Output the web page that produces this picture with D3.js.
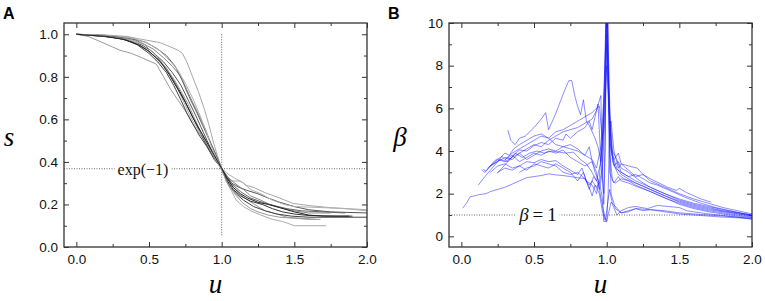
<!DOCTYPE html>
<html>
<head>
<meta charset="utf-8">
<script src="https://cdn.jsdelivr.net/npm/d3@7"></script>
<style>
  body { margin: 0; background: #fff; }
  svg { display: block; }
  .tick text { font-family: "Liberation Sans", Arial, sans-serif; font-size: 13.5px; fill: #111; }
</style>
</head>
<body>
<div id="chart"></div>
<script>
// ---- data: panel A, survival s(u), pairs of [u, s]
const sCurve1 = [[0,1],[0.08,0.99],[0.15,0.97],[0.25,0.94],[0.3,0.925],[0.38,0.91],[0.45,0.89],[0.55,0.86],[0.6,0.8],[0.65,0.74],[0.7,0.69],[0.75,0.64],[0.8,0.58],[0.85,0.53],[0.88,0.5],[0.92,0.46],[0.96,0.41],[1.0,0.37],[1.04,0.32],[1.08,0.28],[1.12,0.25],[1.18,0.22],[1.25,0.19],[1.3,0.17],[1.38,0.155],[1.45,0.14],[1.55,0.135],[1.65,0.13]];
const sCurve2 = [[0,1],[0.2,0.995],[0.35,0.99],[0.42,0.98],[0.5,0.97],[0.58,0.96],[0.65,0.94],[0.7,0.925],[0.73,0.91],[0.76,0.87],[0.8,0.8],[0.84,0.73],[0.88,0.65],[0.91,0.58],[0.94,0.5],[0.97,0.43],[1.0,0.37],[1.03,0.33],[1.07,0.31],[1.13,0.31],[1.17,0.29],[1.22,0.28],[1.3,0.255],[1.4,0.23],[1.49,0.205],[1.6,0.195],[1.75,0.185],[1.88,0.18],[2.0,0.175]];
const sCurve3 = [[0,1],[0.15,0.995],[0.3,0.98],[0.4,0.96],[0.48,0.93],[0.55,0.89],[0.62,0.84],[0.68,0.77],[0.73,0.71],[0.78,0.64],[0.83,0.57],[0.88,0.5],[0.93,0.44],[0.97,0.4],[1.0,0.37],[1.04,0.31],[1.08,0.27],[1.13,0.24],[1.2,0.215],[1.28,0.2],[1.35,0.18],[1.42,0.165],[1.5,0.155],[1.6,0.148],[1.8,0.145],[1.9,0.145]];
const sCurve4 = [[0,1],[0.2,0.99],[0.35,0.975],[0.45,0.95],[0.52,0.92],[0.6,0.87],[0.66,0.82],[0.72,0.76],[0.77,0.69],[0.82,0.62],[0.86,0.56],[0.9,0.5],[0.94,0.44],[0.98,0.39],[1.0,0.37],[1.03,0.33],[1.07,0.3],[1.12,0.28],[1.18,0.265],[1.25,0.25],[1.32,0.23],[1.4,0.21],[1.5,0.19],[1.6,0.175],[1.75,0.165],[2.0,0.16]];
const sCurve5 = [[0,1],[0.25,0.99],[0.38,0.97],[0.46,0.94],[0.53,0.9],[0.6,0.85],[0.65,0.8],[0.7,0.74],[0.74,0.68],[0.78,0.62],[0.82,0.57],[0.87,0.52],[0.91,0.47],[0.95,0.42],[1.0,0.37],[1.03,0.31],[1.07,0.26],[1.1,0.22],[1.15,0.19],[1.2,0.17],[1.27,0.15],[1.35,0.13],[1.42,0.12],[1.5,0.1],[1.72,0.1]];
const sCurve6 = [[0,1],[0.2,0.995],[0.36,0.985],[0.45,0.96],[0.53,0.93],[0.6,0.89],[0.66,0.85],[0.72,0.8],[0.76,0.74],[0.8,0.68],[0.85,0.61],[0.89,0.55],[0.93,0.48],[0.97,0.42],[1.0,0.37],[1.04,0.33],[1.09,0.3],[1.15,0.27],[1.2,0.24],[1.27,0.22],[1.33,0.2],[1.4,0.185],[1.5,0.17],[1.6,0.16],[1.75,0.16]];
const sCurve7 = [[0,1],[0.18,0.99],[0.32,0.98],[0.42,0.95],[0.5,0.91],[0.56,0.87],[0.62,0.82],[0.67,0.76],[0.72,0.69],[0.76,0.63],[0.8,0.58],[0.85,0.52],[0.9,0.47],[0.95,0.41],[1.0,0.37],[1.03,0.32],[1.06,0.28],[1.1,0.25],[1.15,0.22],[1.22,0.19],[1.3,0.17],[1.38,0.155],[1.48,0.145],[1.6,0.14],[1.8,0.14],[2.0,0.14]];
const sCurve8 = [[0,1],[0.22,0.99],[0.38,0.975],[0.47,0.95],[0.55,0.9],[0.62,0.84],[0.68,0.78],[0.73,0.72],[0.77,0.67],[0.81,0.61],[0.85,0.55],[0.9,0.49],[0.94,0.44],[0.97,0.4],[1.0,0.36],[1.04,0.3],[1.09,0.25],[1.14,0.21],[1.2,0.18],[1.25,0.165],[1.32,0.15],[1.4,0.14],[1.5,0.135],[1.6,0.13],[1.68,0.13]];
const sCurve9 = [[0,1],[0.2,0.995],[0.37,0.98],[0.47,0.965],[0.55,0.935],[0.62,0.9],[0.68,0.85],[0.73,0.78],[0.78,0.7],[0.83,0.63],[0.87,0.57],[0.91,0.51],[0.95,0.45],[0.98,0.4],[1.0,0.37],[1.04,0.33],[1.08,0.29],[1.13,0.26],[1.2,0.23],[1.28,0.21],[1.36,0.195],[1.45,0.18],[1.55,0.17],[1.7,0.165],[1.85,0.16]];
const sCurve10 = [[0,1],[0.25,0.995],[0.4,0.98],[0.5,0.955],[0.58,0.92],[0.65,0.87],[0.7,0.83],[0.75,0.77],[0.8,0.7],[0.85,0.62],[0.89,0.55],[0.93,0.47],[0.97,0.41],[1.0,0.37],[1.05,0.34],[1.1,0.32],[1.15,0.3],[1.2,0.27],[1.27,0.25],[1.35,0.22],[1.43,0.2],[1.5,0.19],[1.7,0.185],[1.85,0.18],[2.0,0.17]];
const sCurve11 = [[0,1],[0.2,0.99],[0.33,0.975],[0.43,0.95],[0.5,0.92],[0.58,0.87],[0.64,0.81],[0.7,0.74],[0.75,0.68],[0.8,0.61],[0.85,0.55],[0.9,0.49],[0.95,0.43],[1.0,0.37],[1.04,0.32],[1.08,0.28],[1.13,0.25],[1.18,0.23],[1.25,0.21],[1.32,0.2],[1.4,0.185],[1.5,0.165],[1.6,0.15],[1.7,0.145],[1.88,0.145]];

// ---- data: panel B, beta(u), pairs of [u, beta]
const bCurve1 = [[0.01,1.33],[0.04,1.6],[0.06,1.85],[0.09,1.9],[0.12,1.95],[0.17,2.0],[0.2,2.1],[0.25,2.2],[0.3,2.3],[0.35,2.45],[0.4,2.6],[0.45,2.75],[0.5,2.8],[0.55,2.85],[0.6,2.93],[0.65,2.88],[0.7,2.85],[0.75,2.8],[0.8,2.75],[0.85,2.7],[0.88,2.4],[0.9,2.6],[0.93,2.3],[0.95,2.5],[0.97,1.8],[0.98,0.7],[1.0,0.7],[1.01,1.0],[1.03,1.6],[1.06,1.4],[1.1,1.1],[1.15,1.15],[1.2,1.3],[1.25,1.2],[1.3,1.25],[1.4,1.15],[1.5,1.05],[1.6,1.0],[1.7,0.95],[1.8,0.9],[1.9,0.87],[2.0,0.82]];
const bCurve2 = [[0.117,2.4],[0.15,2.7],[0.2,3.1],[0.25,3.5],[0.28,3.75],[0.3,3.6],[0.35,3.9],[0.4,4.1],[0.45,4.3],[0.5,4.5],[0.55,4.7],[0.6,4.6],[0.65,4.9],[0.7,5.0],[0.75,5.2],[0.8,5.4],[0.85,5.6],[0.9,5.8],[0.93,6.0],[0.95,6.1],[0.97,4.5],[0.99,8],[1.0,12],[1.01,9],[1.03,4],[1.06,3.2],[1.1,3.0],[1.15,2.8],[1.2,2.6],[1.3,2.3],[1.4,2.0],[1.5,1.7],[1.6,1.5],[1.7,1.35],[1.8,1.2],[1.9,1.1],[2.0,1.0]];
const bCurve3 = [[0.14,3.13],[0.16,3.0],[0.2,3.3],[0.25,3.6],[0.3,3.5],[0.35,3.7],[0.4,3.9],[0.45,3.6],[0.5,3.8],[0.55,4.0],[0.6,4.1],[0.65,4.0],[0.7,4.2],[0.75,4.3],[0.8,4.1],[0.85,3.8],[0.9,3.6],[0.93,3.2],[0.96,4.2],[0.98,6.5],[1.0,10.5],[1.02,5.5],[1.04,3.5],[1.08,2.9],[1.12,2.7],[1.2,2.5],[1.3,2.2],[1.4,1.9],[1.5,1.6],[1.6,1.4],[1.7,1.25],[1.8,1.15],[1.9,1.05],[2.0,0.95]];
const bCurve4 = [[0.245,2.95],[0.28,3.2],[0.32,3.5],[0.36,3.8],[0.4,4.05],[0.45,4.0],[0.5,4.25],[0.55,4.4],[0.6,4.3],[0.65,4.6],[0.7,4.5],[0.72,4.8],[0.75,4.6],[0.8,4.9],[0.85,5.1],[0.88,5.4],[0.9,5.0],[0.92,5.6],[0.94,6.2],[0.96,3.5],[0.98,2.0],[0.99,5],[1.0,11],[1.01,7],[1.02,3],[1.05,2.5],[1.08,2.8],[1.1,2.6],[1.15,2.5],[1.2,2.35],[1.3,2.1],[1.4,1.8],[1.5,1.55],[1.6,1.35],[1.7,1.2],[1.8,1.1],[1.9,1.0],[2.0,0.9]];
const bCurve5 = [[0.32,4.98],[0.34,4.5],[0.37,4.3],[0.4,4.6],[0.44,4.7],[0.5,5.1],[0.55,5.5],[0.58,5.8],[0.6,5.0],[0.64,5.6],[0.68,6.3],[0.72,7.0],[0.74,7.3],[0.76,7.3],[0.78,6.6],[0.8,6.1],[0.82,5.7],[0.84,6.4],[0.86,5.4],[0.88,5.2],[0.9,4.9],[0.92,4.6],[0.94,4.2],[0.96,3.5],[0.98,5.5],[1.0,10.5],[1.02,4.5],[1.05,3.3],[1.08,3.5],[1.1,3.2],[1.15,3.0],[1.2,2.75],[1.25,2.5],[1.3,2.3],[1.4,2.0],[1.5,1.75],[1.6,1.55],[1.7,1.4],[1.8,1.25],[1.9,1.12],[2.0,1.0]];
const bCurve6 = [[0.2,3.3],[0.25,3.5],[0.3,3.7],[0.35,3.6],[0.4,3.9],[0.45,4.1],[0.5,4.3],[0.55,4.2],[0.6,4.5],[0.65,4.7],[0.7,4.9],[0.75,5.0],[0.8,5.1],[0.85,5.3],[0.9,5.5],[0.93,5.9],[0.96,6.6],[0.97,3.0],[0.98,1.5],[0.99,4],[1.0,12],[1.01,8],[1.03,2.0],[1.06,1.3],[1.1,1.1],[1.15,1.2],[1.2,1.3],[1.3,1.25],[1.4,1.2],[1.5,1.1],[1.6,1.05],[1.7,1.0],[1.8,0.95],[1.9,0.9],[2.0,0.85]];
const bCurve7 = [[0.2,3.0],[0.25,3.3],[0.3,3.4],[0.35,3.2],[0.4,3.3],[0.45,3.5],[0.5,3.45],[0.55,3.6],[0.6,3.5],[0.65,3.55],[0.7,3.3],[0.75,3.1],[0.8,2.9],[0.83,3.2],[0.86,2.6],[0.9,2.4],[0.93,2.0],[0.95,2.8],[0.97,4.5],[0.99,7],[1.0,9],[1.02,6],[1.04,4.0],[1.07,3.6],[1.1,3.0],[1.15,2.8],[1.2,2.9],[1.25,2.7],[1.3,2.5],[1.35,2.4],[1.45,2.1],[1.55,1.8],[1.65,1.55],[1.75,1.35],[1.85,1.2],[1.95,1.05],[2.0,1.0]];
const bCurve8 = [[0.18,3.2],[0.22,3.4],[0.27,3.6],[0.32,3.5],[0.37,3.9],[0.42,3.7],[0.47,3.9],[0.52,4.0],[0.57,3.9],[0.62,4.0],[0.67,3.95],[0.72,3.9],[0.77,3.95],[0.82,3.6],[0.86,3.4],[0.9,3.0],[0.93,2.6],[0.96,3.5],[0.98,5.0],[1.0,8.0],[1.02,5.5],[1.04,3.8],[1.07,3.2],[1.1,2.9],[1.15,2.7],[1.2,2.5],[1.3,2.2],[1.4,1.9],[1.5,1.65],[1.6,1.45],[1.7,1.3],[1.8,1.18],[1.9,1.07],[2.0,0.95]];
const bCurve9 = [[0.25,3.0],[0.3,3.2],[0.35,3.1],[0.4,3.3],[0.45,3.1],[0.5,3.4],[0.55,3.3],[0.6,3.2],[0.65,3.4],[0.7,3.2],[0.75,3.0],[0.8,2.6],[0.84,3.0],[0.88,2.2],[0.91,2.8],[0.94,2.5],[0.97,1.5],[0.99,0.8],[1.0,0.7],[1.01,2.0],[1.02,5.0],[1.03,5.4],[1.05,4.0],[1.08,3.2],[1.1,3.4],[1.15,3.1],[1.2,2.8],[1.25,2.9],[1.3,2.6],[1.4,2.3],[1.5,2.0],[1.6,1.75],[1.7,1.55],[1.8,1.35],[1.9,1.2],[2.0,1.05]];
const bCurve10 = [[0.3,3.6],[0.35,3.8],[0.4,3.5],[0.45,3.7],[0.5,3.9],[0.55,3.8],[0.6,4.0],[0.65,3.9],[0.7,4.05],[0.75,3.7],[0.8,3.5],[0.85,3.3],[0.9,3.5],[0.93,3.0],[0.95,2.2],[0.97,3.0],[0.99,6],[1.0,9.5],[1.01,7],[1.03,4.2],[1.05,3.6],[1.08,3.9],[1.1,3.4],[1.15,3.3],[1.21,3.2],[1.25,2.9],[1.3,2.7],[1.36,2.5],[1.42,2.3],[1.48,2.15],[1.5,2.25],[1.55,2.05],[1.6,1.9],[1.65,1.75],[1.72,1.6]];
const bCurve11 = [[0.15,3.15],[0.17,3.05],[0.2,3.3],[0.23,3.55],[0.27,3.7],[0.3,3.9],[0.33,3.8],[0.36,4.1],[0.4,4.3],[0.45,4.5],[0.5,4.7],[0.55,4.8],[0.6,4.6],[0.65,4.3],[0.7,4.2],[0.75,4.1],[0.8,4.0],[0.85,3.8],[0.88,4.2],[0.9,3.5],[0.92,3.0],[0.95,2.5],[0.97,3.2],[0.99,9],[1.0,12],[1.01,10],[1.02,4.0],[1.04,2.6],[1.06,2.5],[1.1,2.7],[1.15,2.6],[1.2,2.4],[1.3,2.1],[1.4,1.8],[1.5,1.5],[1.6,1.3],[1.7,1.15],[1.8,1.05],[1.9,0.95],[2.0,0.88]];
const bCurve12 = [[0.4,3.0],[0.45,3.2],[0.5,3.3],[0.55,3.5],[0.6,3.4],[0.65,3.3],[0.7,3.0],[0.75,2.9],[0.8,3.0],[0.85,2.7],[0.88,2.3],[0.9,1.9],[0.92,2.4],[0.95,2.0],[0.97,1.2],[0.99,0.75],[1.0,1.2],[1.02,2.2],[1.04,1.5],[1.07,1.0],[1.1,1.2],[1.15,1.35],[1.2,1.4],[1.28,1.3],[1.35,1.45],[1.42,1.4],[1.5,1.35],[1.55,1.2],[1.6,1.15],[1.7,1.05],[1.8,0.98],[1.9,0.9],[2.0,0.8]];

const curvesA = [sCurve1, sCurve2, sCurve3, sCurve4, sCurve5, sCurve6, sCurve7, sCurve8, sCurve9, sCurve10, sCurve11];
const curvesB = [bCurve1, bCurve2, bCurve3, bCurve4, bCurve5, bCurve6, bCurve7, bCurve8, bCurve9, bCurve10, bCurve11, bCurve12];

// ticks
const uTicks = [0, 0.5, 1.0, 1.5, 2.0];
const uMinor = [0.25, 0.75, 1.25, 1.75];
const sTicks = [0, 0.2, 0.4, 0.6, 0.8, 1.0];
const sMinor = [0.1, 0.3, 0.5, 0.7, 0.9];
const betaTicks = [0, 2, 4, 6, 8, 10];
const betaMinor = [1, 3, 5, 7, 9];

// reference lines
const sRef = Math.exp(-1);
const betaRef = 1;

// grey shades for panel A curves
const greys = ["#9a9a9a", "#a8a8a8", "#333", "#555", "#aaa", "#888", "#444", "#999", "#666", "#b0b0b0", "#222"];

const W = 765, H = 301;
const svg = d3.select("#chart").append("svg")
  .attr("width", W)
  .attr("height", H);

const frameTop = 23, frameBottom = 247;

function drawPanel(opt) {
  const x = d3.scaleLinear().domain([-0.085, 2.0]).range([opt.left, opt.right]);
  const y = d3.scaleLinear().domain(opt.yDomain).range([frameBottom, frameTop]);
  const g = svg.append("g");

  const clipId = "clip" + opt.letter;
  g.append("clipPath").attr("id", clipId)
    .append("rect")
    .attr("x", opt.left).attr("y", frameTop)
    .attr("width", opt.right - opt.left).attr("height", frameBottom - frameTop);

  const noDomain = a => a.call(s => s.select(".domain").remove());
  const tickStyle = a => a.selectAll(".tick line").attr("stroke", "#333").attr("stroke-width", 1);

  // bottom axis with labels, ticks inward
  g.append("g").attr("transform", `translate(0,${frameBottom})`)
    .call(d3.axisBottom(x).tickValues(uTicks).tickSize(-5).tickPadding(7).tickFormat(d3.format(".1f")))
    .call(noDomain).call(tickStyle);
  g.append("g").attr("transform", `translate(0,${frameBottom})`)
    .call(d3.axisBottom(x).tickValues(uMinor).tickSize(-3).tickFormat(""))
    .call(noDomain).call(tickStyle);
  // top mirror
  g.append("g").attr("transform", `translate(0,${frameTop})`)
    .call(d3.axisTop(x).tickValues(uTicks).tickSize(-5).tickFormat(""))
    .call(noDomain).call(tickStyle);
  g.append("g").attr("transform", `translate(0,${frameTop})`)
    .call(d3.axisTop(x).tickValues(uMinor).tickSize(-3).tickFormat(""))
    .call(noDomain).call(tickStyle);
  // left axis
  g.append("g").attr("transform", `translate(${opt.left},0)`)
    .call(d3.axisLeft(y).tickValues(opt.yTicks).tickSize(-5).tickPadding(6).tickFormat(opt.yFormat))
    .call(noDomain).call(tickStyle);
  g.append("g").attr("transform", `translate(${opt.left},0)`)
    .call(d3.axisLeft(y).tickValues(opt.yMinor).tickSize(-3).tickFormat(""))
    .call(noDomain).call(tickStyle);
  // right mirror
  g.append("g").attr("transform", `translate(${opt.right},0)`)
    .call(d3.axisRight(y).tickValues(opt.yTicks).tickSize(-5).tickFormat(""))
    .call(noDomain).call(tickStyle);
  g.append("g").attr("transform", `translate(${opt.right},0)`)
    .call(d3.axisRight(y).tickValues(opt.yMinor).tickSize(-3).tickFormat(""))
    .call(noDomain).call(tickStyle);

  // reference dotted lines
  const dots = "1,1.5";
  g.append("line")
    .attr("x1", opt.left).attr("x2", opt.right)
    .attr("y1", y(opt.hRef)).attr("y2", y(opt.hRef))
    .attr("stroke", "#666").attr("stroke-width", 1).attr("stroke-dasharray", dots);
  if (opt.vRef) {
    g.append("line")
      .attr("x1", x(1)).attr("x2", x(1))
      .attr("y1", y(opt.vRef[0])).attr("y2", y(opt.vRef[1]))
      .attr("stroke", "#666").attr("stroke-width", 1).attr("stroke-dasharray", dots);
  }

  // curves
  const line = d3.line().x(d => x(d[0])).y(d => y(d[1]));
  g.append("g").attr("clip-path", `url(#${clipId})`)
    .selectAll("path")
    .data(opt.curves)
    .join("path")
    .attr("d", line)
    .attr("fill", "none")
    .attr("stroke", (d, i) => opt.color(i))
    .attr("stroke-opacity", opt.opacity)
    .attr("stroke-width", 1)
    .attr("stroke-linejoin", "round");

  // frame
  g.append("rect")
    .attr("x", opt.left).attr("y", frameTop)
    .attr("width", opt.right - opt.left).attr("height", frameBottom - frameTop)
    .attr("fill", "none").attr("stroke", "#333").attr("stroke-width", 1.3);

  // reference label on a white patch
  const lbl = g.append("text")
    .attr("x", opt.refLabelX).attr("y", y(opt.hRef) + 6)
    .attr("text-anchor", "middle")
    .style("font-family", "'Liberation Serif', 'Times New Roman', serif")
    .style("font-size", opt.refLabelSize + "px")
    .attr("fill", "#111");
  opt.refLabel(lbl);
  const bb = lbl.node().getBBox();
  g.insert("rect", () => lbl.node())
    .attr("x", bb.x - 3).attr("y", y(opt.hRef) - 2)
    .attr("width", bb.width + 6).attr("height", 4)
    .attr("fill", "#fff");

  // axis titles
  const serif = "'Liberation Serif', 'Times New Roman', serif";
  g.append("text")
    .attr("x", (opt.left + opt.right) / 2).attr("y", 293)
    .attr("text-anchor", "middle")
    .style("font-family", serif).style("font-style", "italic").style("font-size", "27px")
    .text("u");
  g.append("text")
    .attr("x", opt.yTitleX).attr("y", 146)
    .attr("text-anchor", "middle")
    .style("font-family", serif).style("font-style", "italic").style("font-size", "27px")
    .text(opt.yTitle);

  // panel letter
  g.append("text")
    .attr("x", opt.letterX).attr("y", 19)
    .style("font-family", "'Liberation Sans', Arial, sans-serif")
    .style("font-weight", "bold").style("font-size", "16px")
    .text(opt.letter);
}

drawPanel({
  letter: "A", letterX: 3,
  left: 64, right: 367,
  yDomain: [0, 1.053], yTicks: sTicks, yMinor: sMinor, yFormat: d3.format(".1f"),
  yTitle: "s", yTitleX: 9,
  curves: curvesA, color: i => greys[i % greys.length], opacity: 1,
  hRef: sRef, vRef: [1.0, 0.05],
  refLabelX: 143, refLabelSize: 16,
  refLabel: t => t.text("exp(\u22121)")
});

drawPanel({
  letter: "B", letterX: 388,
  left: 449, right: 752,
  yDomain: [-0.5, 10], yTicks: betaTicks, yMinor: betaMinor, yFormat: d3.format("d"),
  yTitle: "\u03b2", yTitleX: 400,
  curves: curvesB, color: () => "#1a1aff", opacity: 0.5,
  hRef: betaRef, vRef: null,
  refLabelX: 538, refLabelSize: 19,
  refLabel: t => {
    t.append("tspan").style("font-style", "italic").text("\u03b2");
    t.append("tspan").text("\u2009=\u20091");
  }
});
</script>
</body>
</html>
